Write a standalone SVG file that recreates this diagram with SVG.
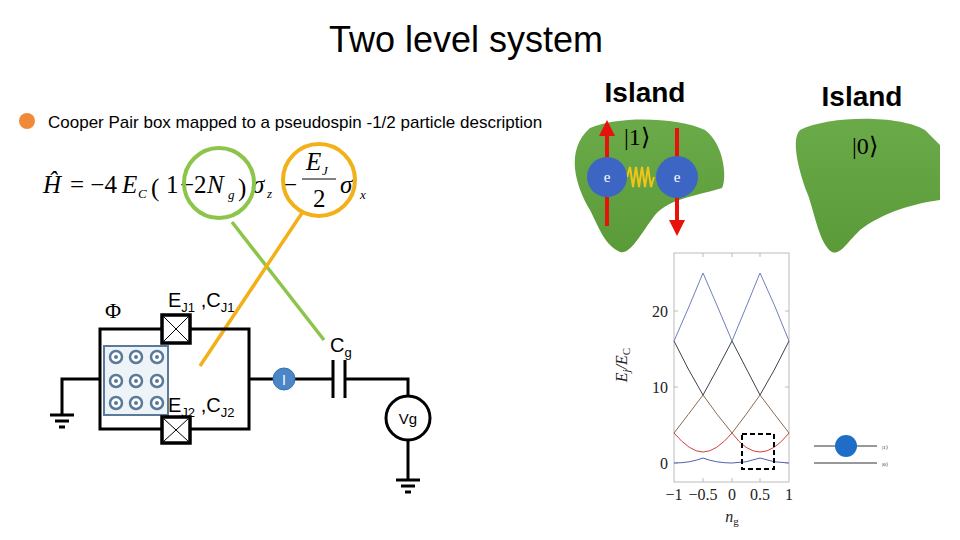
<svg xmlns="http://www.w3.org/2000/svg" width="960" height="540" viewBox="0 0 960 540">
<defs>
<style>
.s{font-family:"Liberation Sans",Arial,sans-serif}
.m{font-family:"Liberation Serif","Times New Roman",serif;font-size:25px}
.sb{font-family:"Liberation Serif","Times New Roman",serif;font-size:13px;font-style:italic}
.i{font-style:italic}
.w{stroke:#000;stroke-width:3;fill:none}
.gr{stroke:#000;stroke-width:3}
.fl{fill:#fff;stroke:#5a7a9a;stroke-width:2.5}
.isl{font-family:"Liberation Sans",Arial,sans-serif;font-weight:bold;font-size:28px}
</style>
<linearGradient id="g1" x1="0" y1="0" x2="0" y2="1"><stop offset="0" stop-color="#6aaa48"/><stop offset="1" stop-color="#5a9a38"/></linearGradient>
<marker id="ar" viewBox="0 0 10 10" refX="5" refY="5" markerWidth="4" markerHeight="4" orient="auto"><path d="M0,0L10,5L0,10z" fill="#e8120c"/></marker>
</defs>
<rect width="960" height="540" fill="#fff"/>
<text x="466" y="52" text-anchor="middle" class="s" font-size="36">Two level system</text>
<circle cx="27" cy="121" r="8" fill="#f08a3a"/>
<text x="48" y="128" class="s" font-size="17">Cooper Pair box mapped to a pseudospin -1/2 particle description</text>
<g id="equation">
<text class="m i" x="43" y="193">Ĥ</text>
<text class="m" x="70" y="193">= −4</text>
<text class="m i" x="122" y="193">E</text>
<text class="sb" x="138" y="198">C</text>
<text class="m" x="151" y="196" font-size="34">(</text>
<text class="m" x="166" y="193">1</text>
<text class="m" x="180" y="193">−</text>
<text class="m" x="194" y="193">2</text>
<text class="m i" x="207" y="193">N</text>
<text class="sb" x="228" y="199">g</text>
<text class="m" x="238" y="196" font-size="34">)</text>
<text class="m i" x="252" y="193">σ</text>
<text class="sb" x="267" y="198">z</text>
<text class="m" x="283" y="193">−</text>
<text class="m i" x="306" y="170">E</text>
<text class="sb" x="322" y="175" font-size="11">J</text>
<line x1="302" y1="179" x2="336" y2="179" stroke="#000" stroke-width="1.2"/>
<text class="m" x="313" y="207">2</text>
<text class="m i" x="340" y="193">σ</text>
<text class="sb" x="360" y="199">x</text>
<circle cx="219" cy="183" r="35" fill="none" stroke="#8dc44a" stroke-width="4"/>
<circle cx="319" cy="180" r="36" fill="none" stroke="#f2b118" stroke-width="4"/>
</g>
<g id="connectors">
<line x1="232" y1="222" x2="324" y2="340" stroke="#8dc44a" stroke-width="3.5"/>
<line x1="200" y1="366" x2="302" y2="213" stroke="#f2b118" stroke-width="3.5"/>
</g>
<g id="circuit">
<rect x="100" y="329" width="149" height="100" class="w"/>
<rect x="104" y="346" width="64" height="69" fill="#eef3f8" stroke="#5a7a9a" stroke-width="2"/>
<g class="fl">
<circle cx="116" cy="357" r="6"/><circle cx="136" cy="357" r="6"/><circle cx="157" cy="357" r="6"/>
<circle cx="116" cy="381" r="6"/><circle cx="136" cy="381" r="6"/><circle cx="157" cy="381" r="6"/>
<circle cx="116" cy="403" r="6"/><circle cx="136" cy="403" r="6"/><circle cx="157" cy="403" r="6"/>
</g>
<g fill="#5a7a9a"><circle cx="116" cy="357" r="2"/><circle cx="136" cy="357" r="2"/><circle cx="157" cy="357" r="2"/><circle cx="116" cy="381" r="2"/><circle cx="136" cy="381" r="2"/><circle cx="157" cy="381" r="2"/><circle cx="116" cy="403" r="2"/><circle cx="136" cy="403" r="2"/><circle cx="157" cy="403" r="2"/></g>
<g id="J1"><rect x="162" y="315" width="28" height="28" fill="#fff" stroke="#000" stroke-width="3.5"/><path d="M164,317L188,341M188,317L164,341" stroke="#000" stroke-width="1"/></g>
<g id="J2"><rect x="162" y="417" width="28" height="26" fill="#fff" stroke="#000" stroke-width="3.5"/><path d="M164,419L188,441M188,419L164,441" stroke="#000" stroke-width="1"/></g>
<path d="M100,379H62V415" class="w"/>
<path d="M50,415H74M55,421H69M59,427H65" class="gr"/>
<path d="M249,379H333M345,379H408V396" class="w"/>
<path d="M333,360V398M345,360V398" class="gr"/>
<circle cx="284" cy="379" r="11" fill="#4a86c8" stroke="#3a70b0"/>
<text x="284" y="385" text-anchor="middle" class="s" font-size="14" fill="#fff">I</text>
<circle cx="408" cy="418" r="22" fill="#fff" stroke="#000" stroke-width="3"/>
<text x="408" y="424" text-anchor="middle" class="s" font-size="15">Vg</text>
<path d="M408,440V479" class="w"/>
<path d="M396,480H420M401,486H415M405,492H411" class="gr"/>
<text x="105" y="318" font-family="Liberation Serif,serif" font-size="22">Φ</text>
<text x="168" y="307" class="s" font-size="20">E<tspan font-size="13" dy="5">J1</tspan><tspan dy="-5"> ,C</tspan><tspan font-size="13" dy="5">J1</tspan></text>
<text x="330" y="352" class="s" font-size="20">C<tspan font-size="13" dy="5">g</tspan></text>
<text x="168" y="412" class="s" font-size="20">E<tspan font-size="13" dy="5">J2</tspan><tspan dy="-5"> ,C</tspan><tspan font-size="13" dy="5">J2</tspan></text>
</g>
<g id="island1">
<text x="645" y="102" text-anchor="middle" class="isl">Island</text>
<path d="M590,128C620,115,680,118,705,130C725,145,727,180,722,188C700,195,670,198,655,215C640,235,630,255,620,252C605,245,600,230,590,210C575,185,565,150,590,128Z" fill="url(#g1)"/>
<text x="624" y="145" font-family="Liberation Serif,serif" font-size="24">|1⟩</text>
<path d="M627,177l3,-10l3,20l3,-20l3,20l3,-20l3,20l3,-20l3,20l3,-10" fill="none" stroke="#f2c418" stroke-width="2"/>
<line x1="607" y1="226" x2="607" y2="128" stroke="#e8120c" stroke-width="4" marker-end="url(#ar)"/>
<line x1="677" y1="128" x2="677" y2="228" stroke="#e8120c" stroke-width="4" marker-end="url(#ar)"/>
<circle cx="607" cy="177" r="20" fill="#3d66c4"/>
<circle cx="677" cy="177" r="21" fill="#3d66c4"/>
<text x="607" y="182" text-anchor="middle" font-family="Liberation Serif,serif" font-size="15" fill="#fff">e</text>
<text x="677" y="182" text-anchor="middle" font-family="Liberation Serif,serif" font-size="15" fill="#fff">e</text>
</g>
<g id="island2">
<text x="862" y="106" text-anchor="middle" class="isl">Island</text>
<path d="M800,130C830,115,900,115,925,130L940,145V200C905,205,880,215,860,230C845,245,840,255,832,252C820,245,815,215,808,195C800,175,790,140,800,130Z" fill="url(#g1)"/>
<text x="852" y="154" font-family="Liberation Serif,serif" font-size="24">|0⟩</text>
</g>
<g id="plot">
<rect x="674" y="253" width="115" height="229" fill="none" stroke="#bbb"/>
<g stroke="#bbb"><path d="M674,311h4M674,387h4M674,463h4M789,311h-4M789,387h-4M789,463h-4M703,482v-4M732,482v-4M760,482v-4M703,253v4M732,253v4M760,253v4"/></g>
<g fill="none" stroke-width="1">
<path d="M674,341Q690,305 703,273Q717,305 732,341Q747,305 760,273Q775,305 789,341" stroke="#7080b8"/>
<path d="M674,341Q688,370 703,395Q717,370 732,341Q747,370 760,395Q775,370 789,341" stroke="#404050"/>
<path d="M674,433Q688,415 703,395Q717,415 732,433Q746,415 760,395Q775,415 789,433" stroke="#8a6a50"/>
<path d="M674,433Q690,452 703,452Q716,452 732,433Q746,452 760,452Q774,452 789,433" stroke="#d04040"/>
<path d="M674,463Q690,463 703,458Q716,463 732,463Q746,463 760,458Q774,463 789,463" stroke="#5060b0"/>
</g>
<rect x="742" y="434" width="32" height="35" fill="none" stroke="#000" stroke-width="2" stroke-dasharray="5,3"/>
<g font-family="Liberation Serif,serif" font-size="16" fill="#222">
<text x="668" y="317" text-anchor="end">20</text><text x="668" y="393" text-anchor="end">10</text><text x="668" y="469" text-anchor="end">0</text>
<text x="674" y="500" text-anchor="middle">−1</text><text x="703" y="500" text-anchor="middle">−0.5</text><text x="732" y="500" text-anchor="middle">0</text><text x="760" y="500" text-anchor="middle">0.5</text><text x="789" y="500" text-anchor="middle">1</text>
<text x="732" y="522" text-anchor="middle" font-style="italic">n<tspan font-size="11" dy="3" font-style="normal">g</tspan></text>
<text transform="translate(627,365) rotate(-90)" text-anchor="middle" font-style="italic">E<tspan font-size="11" dy="3">j</tspan><tspan dy="-3">/E</tspan><tspan font-size="11" dy="3" font-style="normal">C</tspan></text>
</g>
<line x1="814" y1="446" x2="877" y2="446" stroke="#333"/>
<line x1="814" y1="463" x2="877" y2="463" stroke="#333"/>
<circle cx="846" cy="446" r="11" fill="#1e6ec8"/>
<text x="882" y="449" font-family="Liberation Serif,serif" font-size="5">|1⟩</text>
<text x="882" y="466" font-family="Liberation Serif,serif" font-size="5">|0⟩</text>
</g>
</svg>
